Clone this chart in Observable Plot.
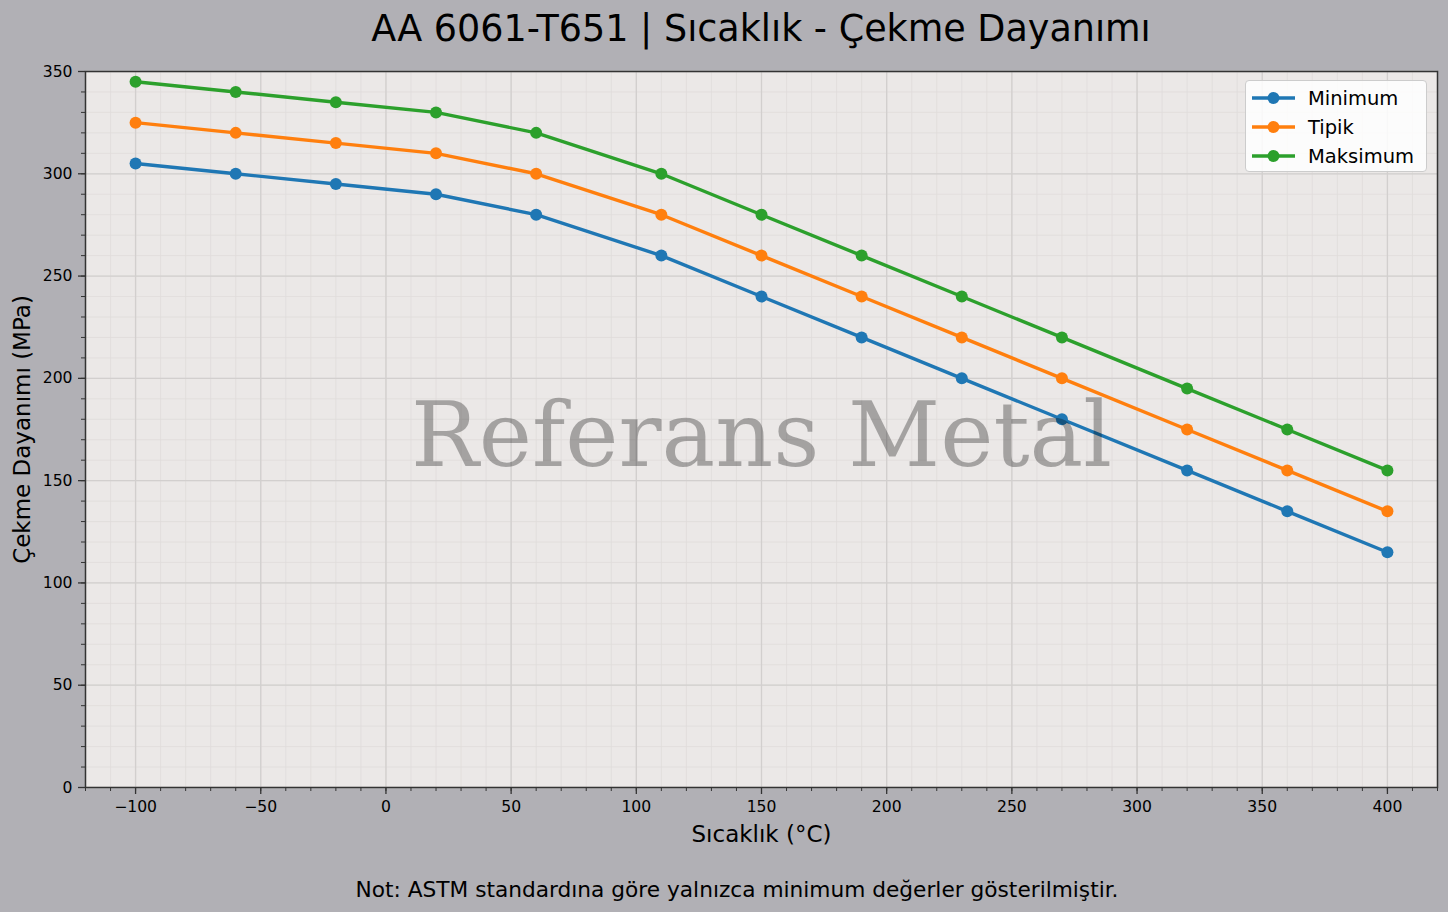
<!DOCTYPE html>
<html>
<head>
<meta charset="utf-8">
<script src="https://cdn.jsdelivr.net/npm/d3@7"></script>
<script src="https://cdn.jsdelivr.net/npm/@observablehq/plot@0.6"></script>
<style>
  html, body { margin: 0; padding: 0; background: #b1b0b5; }
  #wrap { position: relative; width: 1448px; height: 912px; background: #b1b0b5; font-family: "DejaVu Sans", sans-serif; color: #000; }
  #title { height: 60px; line-height: 57px; font-size: 36.5px; text-align: center; padding-left: 85px; padding-right: 11px; box-sizing: border-box; white-space: nowrap; }
  #caption { position: relative; top: 6px; height: 46px; line-height: 48px; font-size: 21.7px; text-align: center; padding-left: 26px; box-sizing: border-box; white-space: nowrap; }
  #legend { position: absolute; left: 1245px; top: 80px; width: 182px; height: 92px; box-sizing: border-box; background: rgba(255,255,255,0.85); border: 1px solid #cccccc; border-radius: 4px; font-size: 19.5px; }
  .row { position: absolute; left: 0; height: 29px; display: flex; align-items: center; }
  .row svg { margin-left: 6px; margin-right: 13px; }
  svg.plot { display: block; }
</style>
</head>
<body>
<div id="wrap">
  <div id="title">AA 6061-T651 | Sıcaklık - Çekme Dayanımı</div>
  <div id="chart"></div>
  <div id="caption">Not: ASTM standardına göre yalnızca minimum değerler gösterilmiştir.</div>
  <div id="legend"></div>
</div>
<script>
// ---- data ----
const temperatures = [-100, -60, -20, 20, 60, 110, 150, 190, 230, 270, 320, 360, 400];
const minimum  = [305, 300, 295, 290, 280, 260, 240, 220, 200, 180, 155, 135, 115];
const tipik    = [325, 320, 315, 310, 300, 280, 260, 240, 220, 200, 175, 155, 135];
const maksimum = [345, 340, 335, 330, 320, 300, 280, 260, 240, 220, 195, 175, 155];
const seriesNames = ["Minimum", "Tipik", "Maksimum"];
const seriesColors = ["#1f77b4", "#ff7f0e", "#2ca02c"];
const xTicks = [-100, -50, 0, 50, 100, 150, 200, 250, 300, 350, 400];
const yTicks = [0, 50, 100, 150, 200, 250, 300, 350];
const xMinor = d3.range(-120, 421, 10);
const yMinor = d3.range(0, 351, 10);
const xLabel = "Sıcaklık (°C)";
const yLabel = "Çekme Dayanımı (MPa)";
const watermark = "Referans Metal";

const seriesValues = [minimum, tipik, maksimum];
const rows = [];
seriesNames.forEach((name, i) => {
  temperatures.forEach((t, j) => rows.push({series: name, t, v: seriesValues[i][j]}));
});

const chart = Plot.plot({
  width: 1448,
  height: 800,
  marginTop: 11,
  marginBottom: 73,
  marginLeft: 85,
  marginRight: 11,
  style: {background: "transparent", color: "#000", fontFamily: "DejaVu Sans", fontSize: "15.6px", overflow: "visible"},
  x: {domain: [-120, 420]},
  y: {domain: [0, 350]},
  color: {domain: seriesNames, range: seriesColors},
  marks: [
    Plot.frame({fill: "#ebe8e7", stroke: null}),
    Plot.gridX(xMinor, {stroke: "#dfdcdb", strokeOpacity: 1, strokeWidth: 0.8}),
    Plot.gridY(yMinor, {stroke: "#dfdcdb", strokeOpacity: 1, strokeWidth: 0.8}),
    Plot.gridX(xTicks, {stroke: "#d2cfce", strokeOpacity: 1, strokeWidth: 1.3}),
    Plot.gridY(yTicks, {stroke: "#d2cfce", strokeOpacity: 1, strokeWidth: 1.3}),
    Plot.line(rows, {x: "t", y: "v", z: "series", stroke: "series", strokeWidth: 3.4}),
    Plot.dot(rows, {x: "t", y: "v", fill: "series", r: 6, stroke: null}),
    Plot.text([watermark], {frameAnchor: "middle", fontFamily: "DejaVu Serif", fontSize: 90, fill: "#000", fillOpacity: 0.3, dy: 8}),
    Plot.frame({stroke: "#333", strokeWidth: 1.5}),
    Plot.axisX(xMinor, {anchor: "bottom", tickSize: 4, tickFormat: () => "", label: null, stroke: "#333", strokeWidth: 1}),
    Plot.axisY(yMinor, {anchor: "left", tickSize: 4, tickFormat: () => "", label: null, stroke: "#333", strokeWidth: 1}),
    Plot.axisX(xTicks, {anchor: "bottom", tickSize: 7, tickPadding: 6, label: null, stroke: "#333", strokeWidth: 1.3, fontSize: 15.6}),
    Plot.axisY(yTicks, {anchor: "left", tickSize: 7, tickPadding: 6, label: null, stroke: "#333", strokeWidth: 1.3, fontSize: 15.6}),
    Plot.text([xLabel], {frameAnchor: "bottom", dy: 47, fontSize: 23, fill: "#000", textAnchor: "middle", lineAnchor: "middle"}),
    Plot.text([yLabel], {frameAnchor: "left", dx: -63, rotate: -90, fontSize: 23, fill: "#000", textAnchor: "middle", lineAnchor: "middle"})
  ]
});
chart.classList.add("plot");
document.getElementById("chart").appendChild(chart);

// legend
const legend = document.getElementById("legend");
seriesNames.forEach((name, i) => {
  const row = document.createElement("div");
  row.className = "row";
  row.style.top = (2.5 + i * 29) + "px";
  row.innerHTML = `<svg width="43" height="14"><line x1="0" y1="7" x2="43" y2="7" stroke="${seriesColors[i]}" stroke-width="3.4"/><circle cx="21.5" cy="7" r="6" fill="${seriesColors[i]}"/></svg><span>${name}</span>`;
  legend.appendChild(row);
});
</script>
</body>
</html>
